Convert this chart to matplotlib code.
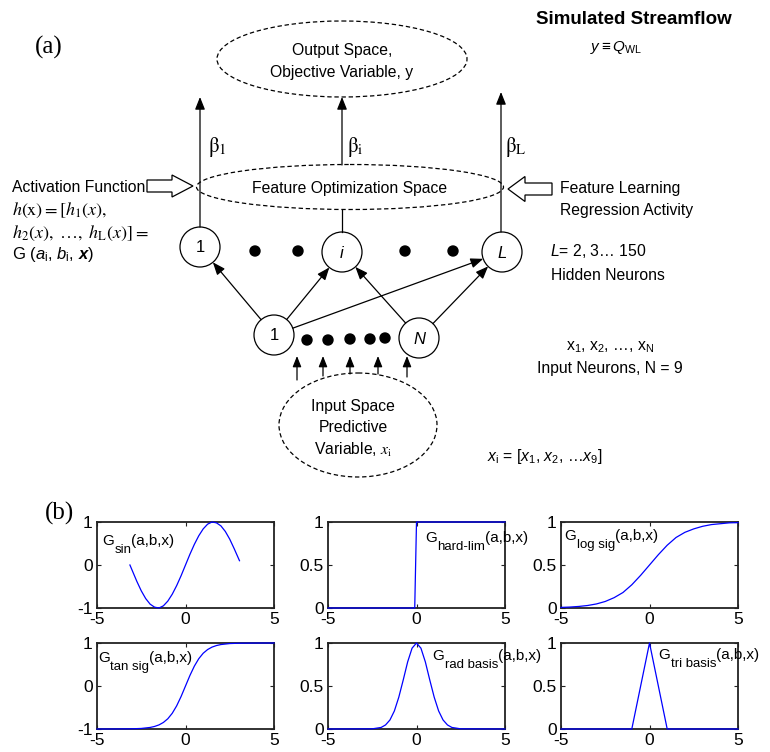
import matplotlib
matplotlib.use("Agg")
import matplotlib.pyplot as plt
from matplotlib.patches import Circle, Ellipse, FancyArrow

plt.rcParams['font.family'] = ['Liberation Sans', 'DejaVu Sans']
plt.rcParams['mathtext.fontset'] = 'custom'
plt.rcParams['mathtext.rm'] = 'Liberation Sans'
plt.rcParams['mathtext.it'] = 'Liberation Sans:italic'
plt.rcParams['mathtext.bf'] = 'Liberation Sans:bold'
plt.rcParams['mathtext.bfit'] = 'Liberation Sans:italic:bold'
plt.rcParams['axes.unicode_minus'] = False

# ---- activation function samples ----
sin_x = [-3.14, -2.75, -2.5, -2.25, -2.0, -1.75, -1.5, -1.25, -1.0, -0.75, -0.5, -0.25,
         0.0, 0.25, 0.5, 0.75, 1.0, 1.25, 1.5, 1.75, 2.0, 2.25, 2.5, 2.75, 3.05]
sin_y = [0.0, -0.38, -0.6, -0.78, -0.91, -0.98, -1.0, -0.95, -0.84, -0.68, -0.48, -0.25,
         0.0, 0.25, 0.48, 0.68, 0.84, 0.95, 1.0, 0.98, 0.91, 0.78, 0.6, 0.38, 0.1]

hardlim_x = [-5, -0.1, 0, 5]
hardlim_y = [0, 0, 1, 1]

logsig_x = [-5, -4.5, -4, -3.5, -3, -2.5, -2, -1.5, -1, -0.5, 0,
            0.5, 1, 1.5, 2, 2.5, 3, 3.5, 4, 4.5, 5]
logsig_y = [0.007, 0.011, 0.018, 0.029, 0.047, 0.076, 0.12, 0.18, 0.27, 0.38, 0.5,
            0.62, 0.73, 0.82, 0.88, 0.92, 0.95, 0.97, 0.98, 0.99, 0.993]

tansig_x = [-5, -4, -3, -2.5, -2, -1.75, -1.5, -1.25, -1, -0.75, -0.5, -0.25, 0,
            0.25, 0.5, 0.75, 1, 1.25, 1.5, 1.75, 2, 2.5, 3, 4, 5]
tansig_y = [-1.0, -0.999, -0.995, -0.987, -0.964, -0.941, -0.905, -0.848, -0.762, -0.635,
            -0.462, -0.245, 0.0, 0.245, 0.462, 0.635, 0.762, 0.848, 0.905, 0.941, 0.964,
            0.987, 0.995, 0.999, 1.0]

radbas_x = [-5, -2.5, -2, -1.75, -1.5, -1.25, -1, -0.75, -0.5, -0.25, 0,
            0.25, 0.5, 0.75, 1, 1.25, 1.5, 1.75, 2, 2.5, 5]
radbas_y = [0.0, 0.002, 0.018, 0.047, 0.105, 0.21, 0.37, 0.57, 0.78, 0.94, 1.0,
            0.94, 0.78, 0.57, 0.37, 0.21, 0.105, 0.047, 0.018, 0.002, 0.0]

tribas_x = [-5, -1, 0, 1, 5]
tribas_y = [0, 0, 1, 0, 0]

subscripts = ['sin', 'hard-lim', 'log sig', 'tan sig', 'rad basis', 'tri basis']
x_ticks = [-5, 0, 5]
sin_ticks = [-1, 0, 1]
unit_ticks = [0, 0.5, 1]

# ---- network diagram labels ----
hidden_labels = ['1', 'i', 'L']
input_labels = ['1', 'N']
beta_labels = [r'$\mathrm{\beta}_1$', r'$\mathrm{\beta}_\mathrm{i}$', r'$\mathrm{\beta}_\mathrm{L}$']

W, H = 770, 752
fig = plt.figure(figsize=(W / 100, H / 100), dpi=100)

# diagram canvas in pixel units (y down)
dg = fig.add_axes([0, 0, 1, 1])
dg.set_xlim(0, W)
dg.set_ylim(H, 0)
dg.axis('off')

LW = 0.9
DASH = (0, (3.5, 2.2))
FS = 11.3


def arrow(p0, p1, ms=15):
    dg.annotate('', xy=p1, xytext=p0,
                arrowprops=dict(arrowstyle='-|>,head_length=0.5,head_width=0.2', color='k',
                                lw=LW, mutation_scale=ms, shrinkA=0, shrinkB=0))


def edge_point(c, r, toward):
    dx, dy = toward[0] - c[0], toward[1] - c[1]
    d = (dx ** 2 + dy ** 2) ** 0.5
    return (c[0] + r * dx / d, c[1] + r * dy / d)


# output and feature spaces
dg.add_patch(Ellipse((342, 59), 250, 76, fill=False, ls=DASH, lw=LW))
dg.text(342, 50, 'Output Space,', ha='center', va='center', fontsize=FS)
dg.text(342, 72, 'Objective Variable, y', ha='center', va='center', fontsize=FS)

dg.add_patch(Ellipse((350, 187), 307, 45, fill=False, ls=DASH, lw=LW))
dg.text(350, 188, 'Feature Optimization Space', ha='center', va='center', fontsize=FS)

# hidden layer
R = 20
hidden_pos = [(200, 247), (342, 252), (502, 252)]
for (cx, cy), lab in zip(hidden_pos, hidden_labels):
    dg.add_patch(Circle((cx, cy), R, fill=False, lw=LW))
    dg.text(cx, cy + 1, lab, ha='center', va='center', fontsize=12,
            style='normal' if lab == '1' else 'italic')
for dx in [255, 298, 405, 453]:
    dg.add_patch(Circle((dx, 251), 5, color='k'))

# output weights
arrow((200, 227), (200, 97))
dg.plot([342, 342], [232, 210], color='k', lw=LW)
arrow((342, 165), (342, 97))
arrow((501, 232), (501, 92))
for bx, lab in zip([208, 347, 505], beta_labels):
    dg.text(bx, 147, lab, ha='left', va='center', fontsize=15, math_fontfamily='stix')

# input layer
input_pos = [(274, 335), (419, 338)]
for (cx, cy), lab in zip(input_pos, input_labels):
    dg.add_patch(Circle((cx, cy), R, fill=False, lw=LW))
    dg.text(cx, cy + 1, lab, ha='center', va='center', fontsize=12,
            style='normal' if lab == '1' else 'italic')
for dx, dy in [(307, 340), (328, 340), (350, 339), (370, 339), (385, 338)]:
    dg.add_patch(Circle((dx, dy), 5, color='k'))

links = [(0, 0), (0, 1), (0, 2), (1, 1), (1, 2)]
for i, h in links:
    a, b = input_pos[i], hidden_pos[h]
    arrow(edge_point(a, R, b), edge_point(b, R, a))

# input space
dg.add_patch(Ellipse((358, 425), 158, 104, fill=False, ls=DASH, lw=LW))
dg.text(353, 406, 'Input Space', ha='center', va='center', fontsize=FS)
dg.text(353, 428, 'Predictive', ha='center', va='center', fontsize=FS)
dg.text(353, 450, r'Variable, $x_\mathrm{i}$', ha='center', va='center', fontsize=FS,
        math_fontfamily='stix')
for ax_x, y0 in [(297, 380), (323, 376), (350, 374), (378, 374), (407, 377)]:
    arrow((ax_x, y0), (ax_x, 356), ms=13)

# block arrows
dg.add_patch(FancyArrow(147, 186, 46, 0, width=12, head_width=22, head_length=21,
                        length_includes_head=True, fc='white', ec='k', lw=LW))
dg.add_patch(FancyArrow(552, 189, -44, 0, width=12, head_width=25, head_length=17,
                        length_includes_head=True, fc='white', ec='k', lw=LW))

# side annotations
dg.text(12, 187, 'Activation Function', va='center', fontsize=FS)
dg.text(12, 210, r'$h(\mathrm{x}) = [h_1(x),$', va='center', fontsize=13, math_fontfamily='stix')
dg.text(12, 233, r'$h_2(x),\ \ldots,\ h_\mathrm{L}(x)] =$', va='center', fontsize=13,
        math_fontfamily='stix')
dg.text(12, 255, r'G ($a_\mathrm{i}$, $b_\mathrm{i}$, $\mathbfit{x}$)', va='center', fontsize=12)

dg.text(560, 188, 'Feature Learning', va='center', fontsize=FS)
dg.text(560, 210, 'Regression Activity', va='center', fontsize=FS)
dg.text(550, 251, r'$L$= 2, 3… 150', va='center', fontsize=FS)
dg.text(551, 275, 'Hidden Neurons', va='center', fontsize=FS)
dg.text(610, 347, r'x$_1$, x$_2$, …, x$_\mathrm{N}$', ha='center', va='center', fontsize=FS)
dg.text(610, 368, 'Input Neurons, N = 9', ha='center', va='center', fontsize=FS)
dg.text(487, 457, r'$x_\mathrm{i}$ = [$x_1$, $x_2$, …$x_9$]', va='center', fontsize=FS)

dg.text(634, 20, 'Simulated Streamflow', ha='center', va='center', fontsize=13.5,
        fontweight='bold')
dg.text(590, 47, r'$y \equiv Q_\mathrm{WL}$', va='center', fontsize=11)

dg.text(35, 47, '(a)', va='center', fontsize=18, family='Liberation Serif')
dg.text(45, 513, '(b)', va='center', fontsize=18, family='Liberation Serif')

# ---- activation function panels ----
panels = [
    (sin_x, sin_y, (-1, 1), sin_ticks, (0.03, 0.73)),
    (hardlim_x, hardlim_y, (0, 1), unit_ticks, (0.55, 0.77)),
    (logsig_x, logsig_y, (0, 1), unit_ticks, (0.02, 0.79)),
    (tansig_x, tansig_y, (-1, 1), sin_ticks, (0.005, 0.78)),
    (radbas_x, radbas_y, (0, 1), unit_ticks, (0.59, 0.80)),
    (tribas_x, tribas_y, (0, 1), unit_ticks, (0.55, 0.81)),
]
lefts = [97, 328, 561]
bottoms = [608, 729]
aw, ah = 177, 86

for k, (x, y, ylim, yt, (tx, ty)) in enumerate(panels):
    row, col = divmod(k, 3)
    ax = fig.add_axes([lefts[col] / W, (H - bottoms[row]) / H, aw / W, ah / H])
    ax.plot(x, y, color='#0000ff', lw=0.9, zorder=3, clip_on=False)
    ax.set_xlim(-5, 5)
    ax.set_ylim(*ylim)
    ax.set_xticks(x_ticks)
    ax.set_yticks(yt)
    ax.set_yticklabels([f'{v:g}' for v in yt])
    ax.tick_params(direction='in', length=3, width=0.8, top=True, right=True,
                   labelsize=12.5, pad=3, color='#222222')
    for s in ax.spines.values():
        s.set_linewidth(1.3)
        s.set_color('#222222')
    tG = ax.text(tx, ty, 'G', transform=ax.transAxes, fontsize=11, va='baseline')
    tS = ax.annotate(subscripts[k], xy=(1, 0), xycoords=tG, xytext=(0.3, -3.5),
                     textcoords='offset points', fontsize=9.5, va='baseline',
                     annotation_clip=False)
    ax.annotate('(a,b,x)', xy=(1, 0), xycoords=(tS, tG), fontsize=11, va='bottom',
                annotation_clip=False)

fig.savefig('out.png', dpi=100)
